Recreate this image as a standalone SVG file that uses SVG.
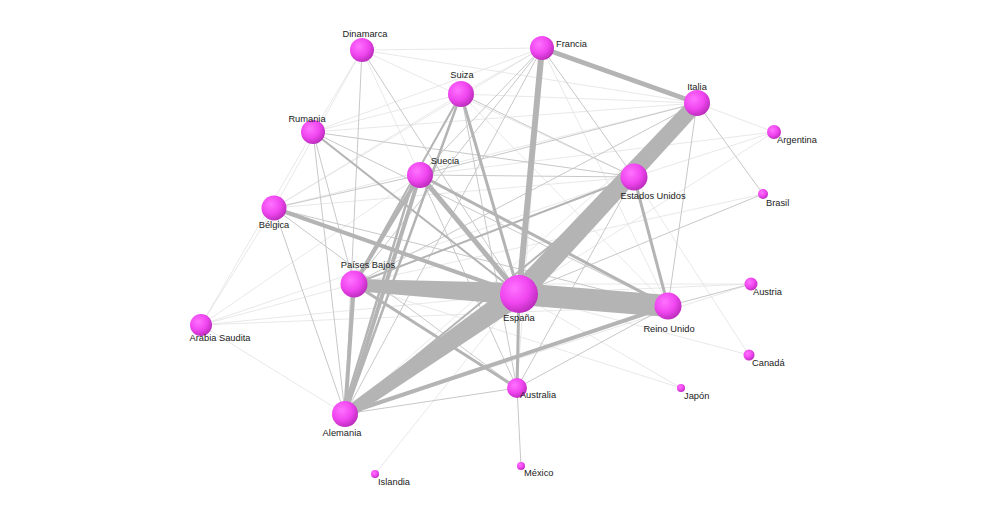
<svg xmlns="http://www.w3.org/2000/svg" width="1005" height="508" viewBox="0 0 1005 508">
<defs>
<radialGradient id="ball" cx="0.38" cy="0.35" r="0.7">
<stop offset="0" stop-color="#ff72ff"/>
<stop offset="0.55" stop-color="#f046f0"/>
<stop offset="1" stop-color="#b82ab8"/>
</radialGradient>
</defs>
<style>
.l{stroke:#e2e2e2;stroke-width:0.8;fill:none}
.m{stroke:#c8c8c8;stroke-width:1;fill:none}
.h{stroke:#b4b4b4;fill:none}
.b{fill:#b4b4b4;stroke:none}
.n{fill:url(#ball)}
text{font-family:"Liberation Sans",Arial,sans-serif;font-size:9.3px;fill:#1a1a1a}
.c{text-anchor:middle}
</style>
<rect width="1005" height="508" fill="#ffffff"/>
<g id="connectors">
<line class="l" x1="201" y1="325" x2="274" y2="208"/>
<line class="l" x1="201" y1="325" x2="313" y2="132"/>
<line class="l" x1="201" y1="325" x2="354" y2="284"/>
<line class="l" x1="201" y1="325" x2="519" y2="294"/>
<line class="l" x1="201" y1="325" x2="668" y2="306"/>
<line class="l" x1="201" y1="325" x2="420" y2="175"/>
<line class="l" x1="201" y1="325" x2="345" y2="414"/>
<line class="l" x1="201" y1="325" x2="634" y2="177"/>
<line class="l" x1="274" y1="208" x2="362" y2="50"/>
<line class="l" x1="274" y1="208" x2="542" y2="48"/>
<line class="l" x1="313" y1="132" x2="542" y2="48"/>
<line class="l" x1="313" y1="132" x2="461" y2="94"/>
<line class="l" x1="313" y1="132" x2="697" y2="103"/>
<line class="l" x1="362" y1="50" x2="542" y2="48"/>
<line class="l" x1="362" y1="50" x2="697" y2="103"/>
<line class="l" x1="362" y1="50" x2="634" y2="177"/>
<line class="l" x1="362" y1="50" x2="420" y2="175"/>
<line class="l" x1="362" y1="50" x2="313" y2="132"/>
<line class="l" x1="461" y1="94" x2="542" y2="48"/>
<line class="l" x1="461" y1="94" x2="697" y2="103"/>
<line class="l" x1="461" y1="94" x2="274" y2="208"/>
<line class="l" x1="697" y1="103" x2="774" y2="132"/>
<line class="l" x1="697" y1="103" x2="345" y2="414"/>
<line class="l" x1="697" y1="103" x2="274" y2="208"/>
<line class="l" x1="774" y1="132" x2="519" y2="294"/>
<line class="l" x1="774" y1="132" x2="634" y2="177"/>
<line class="l" x1="774" y1="132" x2="420" y2="175"/>
<line class="l" x1="751" y1="284" x2="345" y2="414"/>
<line class="l" x1="751" y1="284" x2="519" y2="294"/>
<line class="l" x1="751" y1="284" x2="354" y2="284"/>
<line class="l" x1="749" y1="355" x2="634" y2="177"/>
<line class="l" x1="749" y1="355" x2="519" y2="294"/>
<line class="l" x1="681" y1="388" x2="519" y2="294"/>
<line class="l" x1="681" y1="388" x2="354" y2="284"/>
<line class="l" x1="375" y1="474" x2="519" y2="294"/>
<line class="l" x1="542" y1="48" x2="668" y2="306"/>
<line class="l" x1="542" y1="48" x2="517" y2="388"/>
<line class="l" x1="461" y1="94" x2="668" y2="306"/>
<line class="l" x1="634" y1="177" x2="274" y2="208"/>
<line class="l" x1="763" y1="194" x2="354" y2="284"/>
<line class="m" x1="362" y1="50" x2="519" y2="294"/>
<line class="m" x1="362" y1="50" x2="345" y2="414" stroke-width="1.4"/>
<line class="m" x1="313" y1="132" x2="345" y2="414" stroke-width="1.4"/>
<line class="m" x1="313" y1="132" x2="354" y2="284"/>
<line class="m" x1="313" y1="132" x2="668" y2="306" stroke-width="1.3"/>
<line class="m" x1="313" y1="132" x2="634" y2="177"/>
<line class="m" x1="274" y1="208" x2="345" y2="414" stroke-width="1.3"/>
<line class="m" x1="274" y1="208" x2="420" y2="175"/>
<line class="m" x1="274" y1="208" x2="668" y2="306" stroke-width="1.5"/>
<line class="m" x1="274" y1="208" x2="517" y2="388"/>
<line class="m" x1="542" y1="48" x2="420" y2="175"/>
<line class="m" x1="542" y1="48" x2="354" y2="284"/>
<line class="m" x1="542" y1="48" x2="345" y2="414"/>
<line class="m" x1="542" y1="48" x2="634" y2="177"/>
<line class="m" x1="697" y1="103" x2="420" y2="175"/>
<line class="m" x1="697" y1="103" x2="354" y2="284"/>
<line class="m" x1="697" y1="103" x2="668" y2="306"/>
<line class="m" x1="697" y1="103" x2="763" y2="194"/>
<line class="m" x1="461" y1="94" x2="634" y2="177"/>
<line class="m" x1="461" y1="94" x2="517" y2="388"/>
<line class="m" x1="634" y1="177" x2="517" y2="388"/>
<line class="m" x1="420" y1="175" x2="517" y2="388"/>
<line class="m" x1="420" y1="175" x2="634" y2="177" stroke-width="1.5"/>
<line class="m" x1="517" y1="388" x2="521" y2="466" stroke-width="1.4"/>
<line class="m" x1="517" y1="388" x2="345" y2="414" stroke-width="1.3"/>
<line class="m" x1="517" y1="388" x2="668" y2="306"/>
<line class="m" x1="763" y1="194" x2="519" y2="294" stroke-width="1.4"/>
<line class="m" x1="751" y1="284" x2="668" y2="306" stroke-width="1.4"/>
<line class="m" x1="354" y1="284" x2="668" y2="306"/>
<line class="h" x1="313" y1="132" x2="519" y2="294" stroke-width="2"/>
<line class="h" x1="354" y1="284" x2="634" y2="177" stroke-width="2"/>
<line class="h" x1="345" y1="414" x2="634" y2="177" stroke-width="2"/>
<line class="h" x1="420" y1="175" x2="668" y2="306" stroke-width="3"/>
<line class="h" x1="461" y1="94" x2="345" y2="414" stroke-width="2.5"/>
<line class="h" x1="461" y1="94" x2="354" y2="284" stroke-width="2"/>
<line class="h" x1="461" y1="94" x2="519" y2="294" stroke-width="3"/>
<line class="h" x1="634" y1="177" x2="668" y2="306" stroke-width="3"/>
<line class="h" x1="519" y1="294" x2="517" y2="388" stroke-width="3"/>
<line class="h" x1="354" y1="284" x2="517" y2="388" stroke-width="3"/>
<line class="h" x1="345" y1="414" x2="668" y2="306" stroke-width="4"/>
<line class="h" x1="354" y1="284" x2="345" y2="414" stroke-width="4"/>
<line class="h" x1="274" y1="208" x2="519" y2="294" stroke-width="4"/>
<line class="h" x1="420" y1="175" x2="354" y2="284" stroke-width="4"/>
<line class="h" x1="420" y1="175" x2="345" y2="414" stroke-width="4"/>
<line class="h" x1="414" y1="178" x2="343" y2="412" stroke-width="2.5"/>
<line class="h" x1="420" y1="175" x2="519" y2="294" stroke-width="5"/>
<line class="h" x1="519" y1="294" x2="634" y2="177" stroke-width="3"/>
<line class="h" x1="542" y1="48" x2="697" y2="103" stroke-width="5"/>
<line class="h" x1="542" y1="48" x2="519" y2="294" stroke-width="6"/>
<polygon class="b" points="342,410 512,284 526,302 349,419"/>
<polygon class="b" points="354,279 519,283 519,305 354,291"/>
<polygon class="b" points="512,286 693,96 703,108 526,302"/>
<polygon class="b" points="519,283 668,295 668,317 519,305"/>
</g>
<g id="nodes">
<g id="n-espana"><circle class="n" cx="519" cy="294" r="19"/><text class="c" x="519" y="321">España</text></g>
<g id="n-reino-unido"><circle class="n" cx="668" cy="306" r="13.5"/><text class="c" x="669" y="332">Reino Unido</text></g>
<g id="n-francia"><circle class="n" cx="542" cy="48" r="12"/><text x="556" y="47">Francia</text></g>
<g id="n-italia"><circle class="n" cx="697" cy="103" r="13"/><text class="c" x="697" y="90">Italia</text></g>
<g id="n-estados-unidos"><circle class="n" cx="634" cy="177" r="13.5"/><text class="c" x="653" y="199">Estados Unidos</text></g>
<g id="n-suiza"><circle class="n" cx="461" cy="94" r="13"/><text class="c" x="462" y="78">Suiza</text></g>
<g id="n-dinamarca"><circle class="n" cx="362" cy="50" r="12"/><text class="c" x="365" y="37">Dinamarca</text></g>
<g id="n-rumania"><circle class="n" cx="313" cy="132" r="12"/><text class="c" x="307" y="122">Rumania</text></g>
<g id="n-suecia"><circle class="n" cx="420" cy="175" r="13"/><text class="c" x="445" y="164">Suecia</text></g>
<g id="n-belgica"><circle class="n" cx="274" cy="208" r="12.5"/><text class="c" x="274" y="228">Bélgica</text></g>
<g id="n-paises-bajos"><circle class="n" cx="354" cy="284" r="13.5"/><text class="c" x="368" y="268">Países Bajos</text></g>
<g id="n-arabia-saudita"><circle class="n" cx="201" cy="325" r="11"/><text class="c" x="220" y="341">Arabia Saudita</text></g>
<g id="n-alemania"><circle class="n" cx="345" cy="414" r="13"/><text class="c" x="342" y="436">Alemania</text></g>
<g id="n-australia"><circle class="n" cx="517" cy="388" r="10"/><text class="c" x="538" y="398">Australia</text></g>
<g id="n-mexico"><circle class="n" cx="521" cy="466" r="4"/><text x="524" y="476">México</text></g>
<g id="n-islandia"><circle class="n" cx="375" cy="474" r="4"/><text x="378" y="485">Islandia</text></g>
<g id="n-japon"><circle class="n" cx="681" cy="388" r="4"/><text x="684" y="399">Japón</text></g>
<g id="n-canada"><circle class="n" cx="749" cy="355" r="5.5"/><text x="752" y="366">Canadá</text></g>
<g id="n-austria"><circle class="n" cx="751" cy="284" r="6.5"/><text x="753" y="295">Austria</text></g>
<g id="n-brasil"><circle class="n" cx="763" cy="194" r="5"/><text x="766" y="206">Brasil</text></g>
<g id="n-argentina"><circle class="n" cx="774" cy="132" r="7"/><text x="777" y="143">Argentina</text></g>
</g>
</svg>
